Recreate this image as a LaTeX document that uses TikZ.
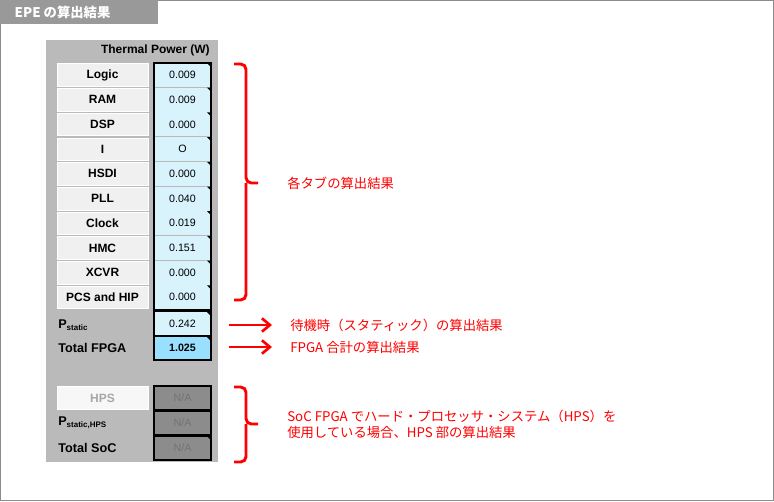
\documentclass[tikz,border=0pt]{standalone}
\usepackage{fontspec}
\setmainfont{Liberation Sans}
\newfontfamily\jp{Noto Sans CJK JP}
\usetikzlibrary{arrows.meta}
\begin{document}
\begin{tikzpicture}[x=0.75pt,y=-0.75pt,
 btn/.style={draw=white,fill=black!6,minimum width=68.25pt,minimum height=17pt,inner sep=0pt,font=\bfseries\fontsize{9}{10}\selectfont},
 cell/.style={draw=black,line width=0.9pt,fill=cyan!15,minimum width=42.75pt,minimum height=18pt,inner sep=0pt,font=\fontsize{8}{9}\selectfont},
 nacell/.style={cell,fill=black!45,text=black!55},
 lbl/.style={anchor=west,font=\bfseries\fontsize{9.5}{10}\selectfont,inner sep=0pt},
 red/.style={text=red,anchor=west,font=\jp\fontsize{10}{12}\selectfont,inner sep=0pt},
 brace/.style={draw=red,line width=2.2pt,rounded corners=4pt},
 arr/.style={draw=red,line width=2pt,-{Straight Barb[length=6pt,width=10pt]}}]
\useasboundingbox (0,0) rectangle (774,501);
\draw[black!45] (0.5,0.5) rectangle (773.5,500.5);
\fill[black!40] (0,0) rectangle (158,24);
\node[text=white,font=\jp\bfseries\fontsize{10}{12}\selectfont,anchor=west] (hdr) at (10,12) {EPE の算出結果};
\fill[black!27] (46,40) rectangle (218,462);
\node[font=\bfseries\fontsize{9}{10}\selectfont,anchor=east,inner sep=0pt] (tp) at (210,50) {Thermal Power (W)};
\foreach \n/\v [count=\i] in {Logic/0.009,RAM/0.009,DSP/0.000,I/O/0.555,HSDI/0.000,PLL/0.040,Clock/0.019,HMC/0.151,XCVR/0.000,PCS and HIP/0.000}{
  \pgfmathsetmacro\yy{75+(\i-1)*24.7}
  \node[btn] (b\i) at (102.5,\yy) {\n};
  \node[cell,draw=none] (c\i) at (182.5,\yy) {\v};
  \fill[red] (211,\yy-12) -- (207,\yy-12) -- (211,\yy-8) -- cycle;
}
\draw[line width=0.9pt] (154,63) rectangle (211,310);
\node[cell] (ps) at (182.5,323.5) {0.242};
\node[cell,fill=blue!30!cyan!40] (tf) at (182.5,348) {\bfseries 1.025};
\fill[red] (211,312) -- (207,312) -- (211,316) -- cycle;
\fill[red] (211,337) -- (207,337) -- (211,341) -- cycle;
\node[lbl] (pl) at (58,325) {P\textsubscript{\fontsize{6}{7}\selectfont static}};
\node[lbl] (tl) at (58,348) {Total FPGA};
\node[btn,fill=black!3,text=black!35] (hps) at (102.5,398) {HPS};
\node[nacell] (n1) at (182.5,398) {N/A};
\node[nacell] (n2) at (182.5,423) {N/A};
\node[nacell] (n3) at (182.5,448) {N/A};
\fill[red] (211,436) -- (207,436) -- (211,440) -- cycle;
\node[lbl] (ph) at (58,423) {P\textsubscript{\fontsize{6}{7}\selectfont static,HPS}};
\node[lbl] (ts) at (58,448) {Total SoC};
\draw[brace] (234,64) -- (246,64) -- (246,183) -- (258,183);
\draw[brace] (234,300) -- (246,300) -- (246,183);
\node[red] (t1) at (287,183) {各タブの算出結果};
\coordinate (a1) at (229,325); \coordinate (a2) at (229,347);
\node[red] (t2) at (290,325) {待機時（スタティック）の算出結果};
\node[red] (t3) at (290,347) {FPGA 合計の算出結果};
\draw[arr] (a1) -- (t2.west-|272,0) ;
\draw[arr] (a2) -- (272,347);
\draw[brace] (234,387) -- (246,387) -- (246,424) -- (258,424);
\draw[brace] (234,462) -- (246,462) -- (246,424);
\node[red,align=left] (t4) at (287,424) {SoC FPGA でハード・プロセッサ・システム（HPS）を\\使用している場合、HPS 部の算出結果};
\end{tikzpicture}
\end{document}
